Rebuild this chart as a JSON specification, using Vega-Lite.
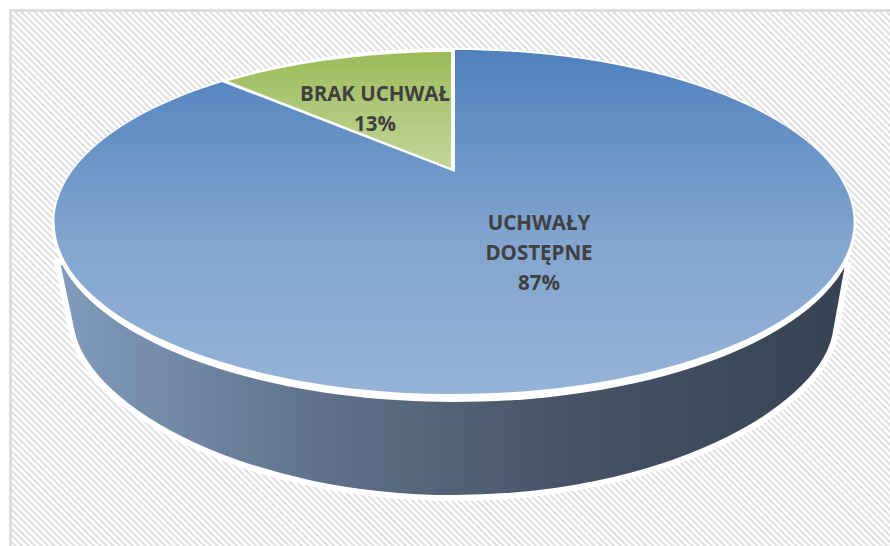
{"$schema":"https://vega.github.io/schema/vega-lite/v6.json","width":890,"height":546,"padding":0,"autosize":{"type":"none"},"background":"#ffffff",
"data":{"values":[{"segment":"BRAK UCHWAŁ","share":13,"label":"BRAK UCHWAŁ\n13%"},{"segment":"UCHWAŁY DOSTĘPNE","share":87,"label":"UCHWAŁY\nDOSTĘPNE\n87%"}]},
"encoding":{"x":{"field":"share","type":"quantitative","scale":{"domain":[13,87],"range":[454,454]},"axis":null},"y":{"field":"share","type":"quantitative","scale":{"domain":[13,87],"range":[222,222]},"axis":null}},
"layer":[
{"transform":[{"filter":"datum.share==87"}],"mark":{"type":"point","shape":"M-1000 1000L1000 -1000","size":4,"filled":false,"fill":"transparent","stroke":"#e2e2e2","strokeWidth":2400,"strokeDash":[2.3,2.3],"opacity":1,"clip":true}},
{"transform":[{"filter":"datum.share==87"}],"mark":{"type":"point","shape":"M-470 -240H450V-212H-445V340H-470Z","size":4,"filled":true,"fill":"#ffffff","stroke":null,"opacity":1,"clip":true}},
{"transform":[{"filter":"datum.share==87"}],"mark":{"type":"point","shape":"M-443.5 340V-211.5H450","size":4,"filled":false,"fill":"transparent","stroke":"#dcdcdc","strokeWidth":3,"opacity":1,"clip":true}},
{"transform":[{"filter":"datum.share==87"}],"mark":{"type":"point","shape":"M-397 40L-382 111C-364 190 -204 276 0 276C206 276 364 190 381 115L394 43Z","size":4,"filled":true,"fill":{"gradient":"linear","x1":0,"y1":0,"x2":1,"y2":0,"stops":[{"offset":0,"color":"#829cbd"},{"offset":0.3,"color":"#62758f"},{"offset":0.65,"color":"#465365"},{"offset":1,"color":"#374352"}]},"stroke":"#ffffff","strokeWidth":6,"opacity":1}},
{"transform":[{"filter":"datum.share==87"}],"mark":{"type":"point","shape":"M-402 3A402 177 0 1 1 402 3A402 177 0 1 1 -402 3Z","size":4,"filled":true,"fill":"#ffffff","stroke":null,"opacity":1}},
{"transform":[{"filter":"datum.share==87"}],"mark":{"type":"point","shape":"M1 -50L1 -172A399.5 172 0 1 1 -232 -140Z","size":4,"filled":true,"fill":{"gradient":"linear","x1":0,"y1":0,"x2":0,"y2":1,"stops":[{"offset":0,"color":"#4f81bd"},{"offset":0.55,"color":"#82a4cf"},{"offset":1,"color":"#95b3d7"}]},"stroke":null,"opacity":1}},
{"transform":[{"filter":"datum.share==13"}],"mark":{"type":"point","shape":"M-3 -54L-3 -170A398 170 0 0 0 -226 -141Z","size":4,"filled":true,"fill":{"gradient":"linear","x1":0,"y1":0,"x2":0,"y2":1,"stops":[{"offset":0,"color":"#9bbb59"},{"offset":1,"color":"#c3d69b"}]},"stroke":null,"opacity":1}},
{"mark":{"type":"text","font":"Open Sans","fontWeight":"bold","fontSize":20.5,"color":"#404040","align":"center","baseline":"middle","lineBreak":"\n","lineHeight":30},
"encoding":{"x":{"field":"share","type":"quantitative","scale":{"domain":[13,87],"range":[375,539]},"axis":null},"y":{"field":"share","type":"quantitative","scale":{"domain":[13,87],"range":[95,224]},"axis":null},"text":{"field":"label"}}}
],
"resolve":{"scale":{"x":"independent","y":"independent"}},
"config":{"view":{"stroke":null}}}
